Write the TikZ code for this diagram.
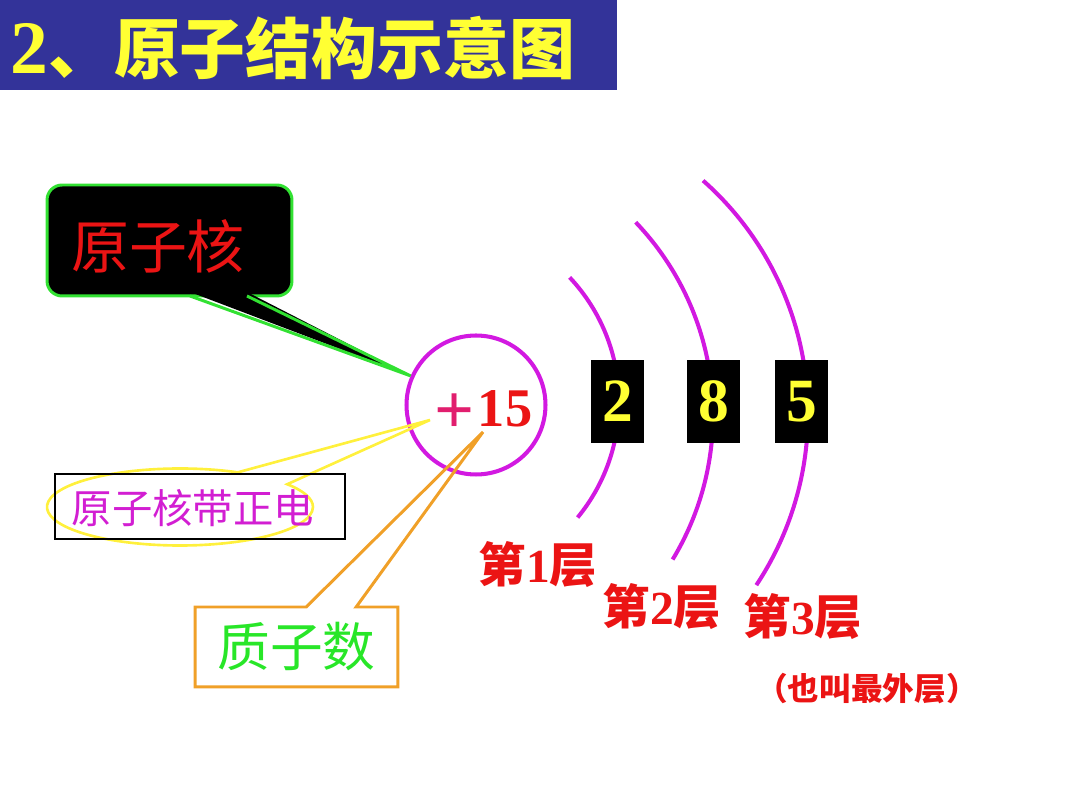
\documentclass[tikz,border=0pt]{standalone}
\usepackage{fontspec}
\setmainfont{Liberation Serif}
\newfontfamily\cjk{Noto Sans CJK SC}
\newcommand{\zh}[1]{{\cjk #1}}
\usetikzlibrary{shapes.callouts}
\definecolor{barblue}{RGB}{51,51,153}
\definecolor{titleyellow}{RGB}{255,255,51}
\definecolor{shellpink}{RGB}{210,25,225}
\definecolor{plusred}{RGB}{225,30,110}
\definecolor{numred}{RGB}{235,20,20}
\definecolor{boxgreen}{RGB}{50,225,50}
\definecolor{ovalyellow}{RGB}{255,240,60}
\definecolor{protonorange}{RGB}{240,160,40}
\definecolor{protongreen}{RGB}{40,230,40}
\definecolor{chargepink}{RGB}{210,30,210}
\begin{document}
\begin{tikzpicture}[
    x=0.02cm,
    y=-0.02cm,
    shell/.style={draw=shellpink, line width=2.3pt},
    ebox/.style={fill=black, text=titleyellow, minimum width=1.06cm, minimum height=1.66cm, inner sep=0pt, font=\fontsize{35}{40}\selectfont\bfseries},
    layer/.style={text=numred, inner sep=0pt, font=\fontsize{27}{30}\selectfont\bfseries}
  ]
  \useasboundingbox (0,0) rectangle (1080,810);
  \fill[barblue] (0,0) rectangle (617,90);
  \node[anchor=west, text=titleyellow, inner sep=0pt, font=\fontsize{37.5}{44}\selectfont\bfseries] (title) at (10,48) {{\fontsize{43}{44}\selectfont 2}\zh{、原子结构示意图}};

  \node[circle, shell, minimum size=2.78cm] (nuc) at (476,405) {};
  \foreach \cx/\cy/\r/\a/\b in {437/402/182/-43.2/39.4, 434/415/279/-43.7/31.2, 497/413.5/311/-48.5/33.5}
    \draw[shell] (\cx,\cy) ++(\a:\r) arc[start angle=\a, end angle=\b, radius=\r];
  \node[ebox] (e1) at (617.5,401.5) {2};
  \node[ebox] (e2) at (713.5,401.5) {8};
  \node[ebox] (e3) at (801.5,401.5) {5};
  \node[layer] (l1) at (538,565) {\zh{第}1\zh{层}};
  \node[layer] (l2) at (662,607) {\zh{第}2\zh{层}};
  \node[layer] (l3) at (803,617) {\zh{第}3\zh{层}};
  \node[layer, font=\fontsize{18}{20}\selectfont\bfseries] (outer) at (867,689) {\zh{（也叫最外层）}};

  \node[fill=black, draw=boxgreen, line width=1.7pt, rounded corners=0.3cm, minimum width=4.9cm, minimum height=2.22cm] (nuclabel) at (169.5,240.5) {};
  \node[text=numred, font=\fontsize{33}{36}\selectfont] (nuctext) at (158,246) {\zh{原子核}};
  \coordinate (nuctip) at (nuc.156);
  \fill (190,292) -- (nuctip) -- (247,292) -- cycle;
  \draw[boxgreen, line width=1.7pt] (190,296) -- (nuctip) -- (247,296);

  \node[ellipse callout, draw=ovalyellow, line width=1.5pt, minimum width=5.32cm, minimum height=1.54cm, callout absolute pointer={(430,420)}, callout pointer arc=28] (oval) at (180,507) {};
  \node[draw=black, line width=1.2pt, minimum width=5.8cm, minimum height=1.3cm] (charge) at (200,506.5) {};
  \node[text=chargepink, font=\fontsize{23}{26}\selectfont] (chargetext) at (193,508) {\zh{原子核带正电}};

  \node[rectangle callout, draw=protonorange, line width=1.7pt, minimum width=4.06cm, minimum height=1.6cm, callout absolute pointer={(483,432)}, callout pointer width=1cm, text=protongreen, font=\fontsize{30}{34}\selectfont] (proton) at (296.5,647) {\zh{质子数}};

  \node[text=plusred, font=\fontsize{40}{40}\selectfont\bfseries] (plus) at (455,414) {+};
  \node[text=numred, font=\fontsize{31}{34}\selectfont\bfseries] (num) at (505,409) {15};
\end{tikzpicture}
\end{document}
